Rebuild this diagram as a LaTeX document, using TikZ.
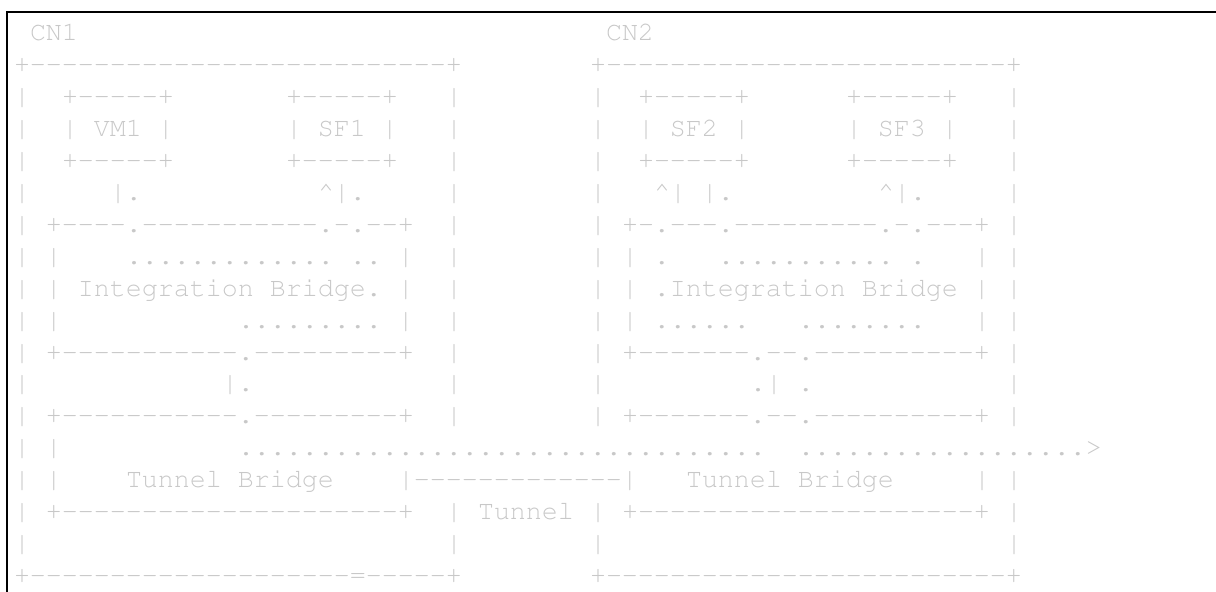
\documentclass[tikz,border=0pt]{standalone}
\usepackage[T1]{fontenc}
\usepackage{courier}
\ExplSyntaxOn
\cs_new:Npn \rpt #1#2 { \prg_replicate:nn {#1} {#2} }
\ExplSyntaxOff
\newcommand\dsh[1]{\rpt{#1}{-{}}}
\definecolor{asciigray}{RGB}{200,200,200}

\begin{document}
\begin{tikzpicture}[x=8pt, y=-15.95pt,
    asc/.style={anchor=base west, inner sep=0pt, outer sep=0pt, text=asciigray,
      font=\ttfamily\fontsize{13.33pt}{16pt}\selectfont\frenchspacing}]
  \useasboundingbox (-0.875,-1.285) rectangle (75.125,17.27);
  \draw[line width=0.6pt] (-0.4375,17.4) -- (-0.4375,-0.909) -- (75.2,-0.909);

  % node names and outer frames
  \node[asc] (cn1) at (1,0) {CN1};
  \node[asc] (cn2) at (37,0) {CN2};
  \node[asc] (cn1top) at (0,1) {+\dsh{26}+};
  \node[asc] (cn2top) at (36,1) {+\dsh{25}+};
  \foreach \r in {2,...,16}
    \node[asc] (cn1l\r) at (0,\r) {|};
  \foreach \r in {2,...,12,15,16} {
    \node[asc] (cn1r\r) at (27,\r) {|};
    \node[asc] (cn2l\r) at (36,\r) {|};
  }
  \foreach \r in {2,...,12,14,15,16}
    \node[asc] (cn2r\r) at (62,\r) {|};
  \node[asc] (cn1bot) at (0,17) {+\dsh{20}=\dsh{5}+};
  \node[asc] (cn2bot) at (36,17) {+\dsh{25}+};

  % VM and SF boxes
  \foreach \c/\n/\t in {3/vm1/VM1, 17/sf1/SF1, 39/sf2/SF2, 52/sf3/SF3} {
    \node[asc] (\n top) at (\c,2) {+\dsh{5}+};
    \node[asc] (\n) at (\c,3) {| \t\ |};
    \node[asc] (\n bot) at (\c,4) {+\dsh{5}+};
  }
  \node[asc] (vm1down) at (6,5) {|.};
  \node[asc] (sf1up) at (19,5) {\textasciicircum|.};
  \node[asc] (sf2up) at (40,5) {\textasciicircum| |.};
  \node[asc] (sf3up) at (54,5) {\textasciicircum|.};

  % integration bridges
  \node[asc] (ib1top) at (2,6) {+\dsh{4}.\dsh{11}.-.\dsh{2}+};
  \node[asc] (ib2top) at (38,6) {+-.\dsh{3}.\dsh{9}.-.\dsh{3}+};
  \node[asc] (ib1a) at (2,7) {|};
  \node[asc] (ib1dots) at (7,7) {\rpt{13}{.} .. |};
  \node[asc] (ib2a) at (38,7) {| .};
  \node[asc] (ib2dots) at (44,7) {\rpt{11}{.} .};
  \node[asc] (ib2b) at (60,7) {|};
  \node[asc] (ib1) at (2,8) {| Integration Bridge. |};
  \node[asc] (ib2) at (38,8) {| .Integration Bridge |};
  \node[asc] (ib1c) at (2,9) {|};
  \node[asc] (ib1low) at (14,9) {\rpt{9}{.} |};
  \node[asc] (ib2low) at (38,9) {| \rpt{6}{.}};
  \node[asc] (ib2low2) at (49,9) {\rpt{8}{.}};
  \node[asc] (ib2d) at (60,9) {|};
  \node[asc] (ib1bot) at (2,10) {+\dsh{11}.\dsh{9}+};
  \node[asc] (ib2bot) at (38,10) {+\dsh{7}.\dsh{2}.\dsh{10}+};

  % patch ports
  \node[asc] (patch1) at (13,11) {|.};
  \node[asc] (patch2) at (46,11) {.| .};

  % tunnel bridges
  \node[asc] (tb1top) at (2,12) {+\dsh{11}.\dsh{9}+};
  \node[asc] (tb2top) at (38,12) {+\dsh{7}.\dsh{2}.\dsh{10}+};
  \node[asc] (tb1a) at (2,13) {|};
  \node[asc] (path1) at (14,13) {\rpt{33}{.}};
  \node[asc] (path2) at (49,13) {\rpt{18}{.}>};
  \node[asc] (tb1b) at (2,14) {|};
  \node[asc] (tb1) at (7,14) {Tunnel Bridge};
  \node[asc] (link) at (24,14) {|\dsh{13}|};
  \node[asc] (tb2) at (42,14) {Tunnel Bridge};
  \node[asc] (tb2b) at (60,14) {|};
  \node[asc] (tb1bot) at (2,15) {+\dsh{21}+};
  \node[asc] (tunnel) at (29,15) {Tunnel};
  \node[asc] (tb2bot) at (38,15) {+\dsh{21}+};
\end{tikzpicture}
\end{document}
